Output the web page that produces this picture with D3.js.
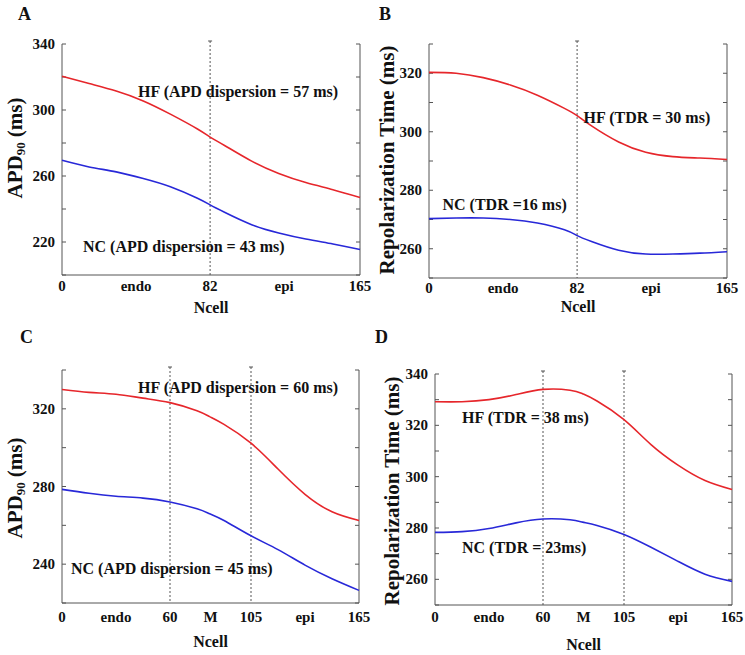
<!DOCTYPE html>
<html>
<head>
<meta charset="utf-8">
<script src="https://cdn.jsdelivr.net/npm/d3@7"></script>
<style>
  body { margin: 0; background: #fff; }
  svg text { font-family: "Liberation Serif", "Times New Roman", serif; font-weight: bold; fill: #111; }
</style>
</head>
<body>
<svg id="fig" width="745" height="655"></svg>
<script>
var ncell = [0, 15, 30, 45, 60, 75, 82, 90, 105, 120, 135, 150, 165];

// A: APD90 (ms), two layers
var hfA = [320.5, 316, 311.5, 305.5, 297.5, 288.5, 283.6, 278.5, 269, 261.5, 256, 251.7, 247];
var ncA = [269.5, 265.5, 262.5, 258.5, 253.5, 246.5, 242.5, 238, 230.5, 225.5, 221.8, 218.8, 215.5];

// B: repolarization time (ms), two layers
var hfB = [320.3, 320, 318.5, 316, 312.5, 308, 305.5, 302, 296.5, 293, 291.5, 291, 290.5];
var ncB = [270.3, 270.5, 270.5, 270, 268.8, 266.5, 264.5, 262.5, 259.5, 258.2, 258.2, 258.5, 259];

// C: APD90 (ms), three layers
var hfC = [330, 328.5, 327.5, 325.5, 323.2, 319, 316, 312, 302.3, 289, 276, 267, 262.5];
var ncC = [278.5, 276.5, 275, 274, 272, 268.5, 266, 262.5, 254.6, 247.5, 239.5, 232.5, 226.5];

// D: repolarization time (ms), three layers
var hfD = [329.2, 329.2, 330, 332, 334, 333.7, 332.3, 329.5, 322.2, 312.5, 304.5, 298.5, 295];
var ncD = [278.3, 278.6, 279.8, 282, 283.5, 283.2, 282.3, 281, 277.5, 272.5, 267, 262, 259.2];

// x ticks
var ticks2 = [0, 41, 82, 123, 165];
var tickLabels2 = ['0', 'endo', '82', 'epi', '165'];
var ticks3 = [0, 30, 60, 82.5, 105, 135, 165];
var tickLabels3 = ['0', 'endo', '60', 'M', '105', 'epi', '165'];

var RED = '#e6262b';
var BLUE = '#2828d8';
var AXIS = '#555';

var svg = d3.select('#fig');

var panels = [
    {letter: 'A', lx: 18, ly: 20, box: [62, 360, 44, 275], yDom: [200, 340], yStep: 20, yLabels: [220, 260, 300, 340],
     xt: ticks2, xl: tickLabels2, dashed: [82], hf: hfA, nc: ncA, yTitle: 'apd', yTitleX: 22, yTitleY: 148,
     tickBase: 290.5, ncellBase: 313,
     hfText: 'HF (APD dispersion = 57 ms)', hfX: 138, hfY: 97,
     ncText: 'NC (APD dispersion = 43 ms)', ncX: 83, ncY: 251.5},
    {letter: 'B', lx: 379, ly: 20, box: [429, 727, 44, 278], yDom: [250, 330], yStep: 10, yLabels: [260, 280, 300, 320],
     xt: ticks2, xl: tickLabels2, dashed: [82], hf: hfB, nc: ncB, yTitle: 'rt', yTitleX: 394, yTitleY: 160,
     tickBase: 292.5, ncellBase: 312,
     hfText: 'HF (TDR = 30 ms)', hfX: 583.5, hfY: 122.5,
     ncText: 'NC (TDR =16 ms)', ncX: 442.5, ncY: 210},
    {letter: 'C', lx: 20, ly: 343, box: [62, 359, 370, 603], yDom: [220, 340], yStep: 20, yLabels: [240, 280, 320],
     xt: ticks3, xl: tickLabels3, dashed: [60, 105], hf: hfC, nc: ncC, yTitle: 'apd', yTitleX: 22, yTitleY: 488,
     tickBase: 621.5, ncellBase: 647,
     hfText: 'HF (APD dispersion = 60 ms)', hfX: 138, hfY: 392.5,
     ncText: 'NC (APD dispersion = 45 ms)', ncX: 71, ncY: 574.3},
    {letter: 'D', lx: 375, ly: 343, box: [435, 732, 374, 605], yDom: [250, 340], yStep: 10, yLabels: [260, 280, 300, 320, 340],
     xt: ticks3, xl: tickLabels3, dashed: [60, 105], hf: hfD, nc: ncD, yTitle: 'rt', yTitleX: 399, yTitleY: 491,
     tickBase: 621.5, ncellBase: 650,
     hfText: 'HF (TDR = 38 ms)', hfX: 462, hfY: 422.7,
     ncText: 'NC (TDR = 23ms)', ncX: 462, ncY: 553.3}
];

var drawPanel = function(p) {
    var left = p.box[0], right = p.box[1], top = p.box[2], bottom = p.box[3];
    var x = d3.scaleLinear().domain([0, 165]).range([left, right]);
    var y = d3.scaleLinear().domain(p.yDom).range([bottom, top]);
    var g = svg.append('g');

    // panel letter
    g.append('text').attr('x', p.lx).attr('y', p.ly).style('font-size', '18px').text(p.letter);

    // axis frame (left, right, bottom)
    g.append('path')
        .attr('d', 'M' + left + ',' + top + 'V' + bottom + 'H' + right + 'V' + top)
        .attr('fill', 'none').attr('stroke', AXIS).attr('stroke-width', 1);

    // y ticks on both sides, inward
    var yt = d3.range(p.yDom[0], p.yDom[1] + 0.1, p.yStep);
    yt.forEach(function(v) {
        g.append('line').attr('x1', left).attr('x2', left + 4).attr('y1', y(v)).attr('y2', y(v))
            .attr('stroke', AXIS);
        g.append('line').attr('x1', right).attr('x2', right - 4).attr('y1', y(v)).attr('y2', y(v))
            .attr('stroke', AXIS);
    });
    p.yLabels.forEach(function(v) {
        g.append('text').attr('x', left - 7).attr('y', y(v) + 5)
            .attr('text-anchor', 'end').style('font-size', '15px').text(v);
    });

    // x tick labels
    p.xt.forEach(function(v, i) {
        g.append('text').attr('x', x(v)).attr('y', p.tickBase)
            .attr('text-anchor', 'middle').style('font-size', '15px').text(p.xl[i]);
    });
    g.append('text').attr('x', (left + right) / 2).attr('y', p.ncellBase)
        .attr('text-anchor', 'middle').style('font-size', '16px').text('Ncell');

    // y title
    var t = g.append('text')
        .attr('transform', 'translate(' + p.yTitleX + ',' + p.yTitleY + ') rotate(-90)')
        .attr('text-anchor', 'middle').style('font-size', '21px');
    if (p.yTitle === 'apd') {
        t.append('tspan').text('APD');
        t.append('tspan').attr('baseline-shift', '-25%').style('font-size', '13px').text('90');
        t.append('tspan').text(' (ms)');
    } else {
        t.text('Repolarization Time (ms)');
    }

    // dashed layer boundaries
    p.dashed.forEach(function(v) {
        g.append('line').attr('x1', x(v)).attr('x2', x(v)).attr('y1', top - 3).attr('y2', bottom)
            .attr('stroke', AXIS).attr('stroke-dasharray', '2,2');
        g.append('line').attr('x1', x(v) - 2).attr('x2', x(v) + 2).attr('y1', top - 3).attr('y2', top - 3)
            .attr('stroke', AXIS);
    });

    var line = d3.line()
        .x(function(d, i) { return x(ncell[i]); })
        .y(function(d) { return y(d); })
        .curve(d3.curveNatural);

    g.append('path').datum(p.hf).attr('d', line)
        .attr('fill', 'none').attr('stroke', RED).attr('stroke-width', 1.6);
    g.append('path').datum(p.nc).attr('d', line)
        .attr('fill', 'none').attr('stroke', BLUE).attr('stroke-width', 1.6);

    g.append('text').attr('x', p.hfX).attr('y', p.hfY).style('font-size', '16px').text(p.hfText);
    g.append('text').attr('x', p.ncX).attr('y', p.ncY).style('font-size', '16px').text(p.ncText);
};

panels.forEach(drawPanel);
</script>
</body>
</html>
